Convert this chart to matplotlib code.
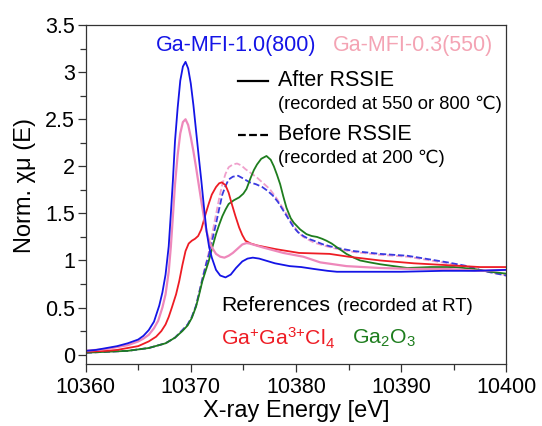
import matplotlib
matplotlib.use("Agg")
import matplotlib.pyplot as plt
from matplotlib.ticker import MultipleLocator

plt.rcParams['font.family'] = ['Liberation Sans', 'DejaVu Sans']
plt.rcParams['mathtext.fontset'] = 'custom'
plt.rcParams['mathtext.rm'] = 'Liberation Sans'
plt.rcParams['mathtext.default'] = 'regular'

# Ga-MFI-1.0(800), after RSSIE
e_blue = [10360.0, 10361.0, 10362.0, 10363.0, 10364.0, 10365.0, 10365.5, 10366.0, 10366.5,
          10367.0, 10367.3, 10367.6, 10367.9, 10368.1, 10368.3, 10368.5, 10368.75, 10369.0,
          10369.25, 10369.5, 10369.75, 10370.0, 10370.25, 10370.5, 10370.75, 10371.0, 10371.25,
          10371.5, 10371.75, 10372.0, 10372.4, 10372.8, 10373.3, 10373.8, 10374.3, 10374.9,
          10375.4, 10375.9, 10376.5, 10377.1, 10378.0, 10379.4, 10380.5, 10381.7, 10383.0,
          10383.9, 10386.4, 10390.0, 10394.0, 10397.0, 10400.0]
y_blue = [0.04, 0.05, 0.07, 0.09, 0.12, 0.16, 0.20, 0.26, 0.35,
          0.52, 0.66, 0.85, 1.15, 1.49, 1.85, 2.27, 2.62, 2.91,
          3.06, 3.11, 3.04, 2.88, 2.65, 2.38, 2.11, 1.85, 1.57,
          1.31, 1.14, 1.03, 0.90, 0.84, 0.82, 0.85, 0.92, 0.99,
          1.02, 1.03, 1.02, 1.00, 0.97, 0.94, 0.93, 0.91, 0.89,
          0.88, 0.88, 0.88, 0.89, 0.89, 0.90]

# Ga-MFI-0.3(550), after RSSIE
e_pink = [10360.0, 10361.0, 10362.0, 10363.0, 10364.0, 10365.0, 10365.5, 10366.0, 10366.5,
          10366.9, 10367.3, 10367.6, 10367.9, 10368.1, 10368.3, 10368.5, 10368.75, 10369.0,
          10369.25, 10369.5, 10369.75, 10370.0, 10370.25, 10370.5, 10370.75, 10371.0, 10371.25,
          10371.5, 10371.75, 10372.0, 10372.4, 10372.8, 10373.2, 10373.6, 10374.0, 10374.5,
          10374.9, 10375.3, 10375.6, 10376.2, 10376.8, 10377.8, 10378.8, 10380.7, 10382.3,
          10384.8, 10388.0, 10391.0, 10394.4, 10397.5, 10400.0]
y_pink = [0.04, 0.05, 0.06, 0.08, 0.10, 0.14, 0.17, 0.21, 0.28,
          0.36, 0.50, 0.64, 0.88, 1.14, 1.47, 1.81, 2.12, 2.35,
          2.47, 2.50, 2.44, 2.31, 2.16, 1.99, 1.81, 1.63, 1.46,
          1.31, 1.21, 1.14, 1.07, 1.04, 1.03, 1.05, 1.08, 1.13,
          1.17, 1.185, 1.18, 1.16, 1.14, 1.11, 1.08, 1.04, 0.98,
          0.94, 0.92, 0.91, 0.91, 0.89, 0.90]

# Ga+Ga3+Cl4 reference
e_red = [10360.0, 10361.0, 10362.0, 10363.0, 10364.0, 10365.0, 10365.4, 10366.0, 10366.7,
         10367.2, 10367.6, 10367.9, 10368.2, 10368.6, 10368.9, 10369.2, 10369.5, 10369.8,
         10370.1, 10370.4, 10370.7, 10371.0, 10371.4, 10371.7, 10372.0, 10372.4, 10372.7,
         10372.95, 10373.3, 10373.6, 10373.9, 10374.25, 10374.6, 10374.9, 10375.2, 10375.7,
         10376.3, 10377.2, 10378.1, 10380.3, 10383.2, 10385.0, 10388.0, 10391.2, 10394.4,
         10397.5, 10400.0]
y_red = [0.03, 0.035, 0.04, 0.05, 0.07, 0.09, 0.11, 0.14, 0.19,
         0.25, 0.32, 0.40, 0.50, 0.64, 0.78, 0.95, 1.10, 1.18,
         1.21, 1.23, 1.26, 1.33, 1.49, 1.60, 1.70, 1.78, 1.82,
         1.83, 1.80, 1.72, 1.60, 1.47, 1.35, 1.27, 1.21, 1.18,
         1.16, 1.14, 1.12, 1.08, 1.07, 1.04, 1.00, 0.97, 0.95,
         0.93, 0.93]

# Ga2O3 reference
e_green = [10360.0, 10362.0, 10364.0, 10366.0, 10367.6, 10368.5, 10369.2, 10369.7, 10370.1,
           10370.5, 10370.8, 10371.1, 10371.5, 10371.7, 10372.05, 10372.4, 10372.7, 10373.0,
           10373.3, 10373.6, 10374.1, 10374.6, 10375.0, 10375.3, 10375.7, 10376.0, 10376.3,
           10376.7, 10377.2, 10377.6, 10377.9, 10378.2, 10378.5, 10378.8, 10379.1, 10379.5,
           10379.8, 10380.4, 10381.0, 10381.5, 10382.0, 10382.5, 10382.9, 10383.4, 10383.9,
           10384.8, 10385.5, 10386.1, 10387.0, 10388.0, 10390.6, 10392.8, 10395.0, 10396.9,
           10398.5, 10400.0]
y_green = [0.02, 0.03, 0.04, 0.07, 0.12, 0.18, 0.25, 0.31, 0.39,
           0.51, 0.64, 0.78, 0.92, 0.99, 1.14, 1.28, 1.38, 1.47,
           1.54, 1.60, 1.64, 1.67, 1.71, 1.76, 1.88, 1.96, 2.02,
           2.08, 2.11, 2.07, 2.00, 1.91, 1.81, 1.68, 1.56, 1.45,
           1.40, 1.33, 1.28, 1.26, 1.25, 1.23, 1.21, 1.18, 1.14,
           1.07, 1.03, 1.00, 0.98, 0.96, 0.92, 0.93, 0.93, 0.91,
           0.88, 0.86]

# before RSSIE (recorded at 200 C)
e_blue_b = [10360.0, 10362.0, 10364.0, 10366.0, 10367.6, 10368.5, 10369.2, 10369.7, 10370.1,
            10370.5, 10370.8, 10371.1, 10371.5, 10371.7, 10372.05, 10372.4, 10372.7, 10373.0,
            10373.3, 10373.6, 10374.0, 10374.5, 10375.0, 10375.6, 10376.2, 10376.8, 10377.3,
            10377.8, 10378.3, 10378.8, 10379.3, 10379.8, 10380.2, 10380.7, 10381.2, 10381.7,
            10382.6, 10383.6, 10385.5, 10388.0, 10390.6, 10392.8, 10394.4, 10396.3, 10397.8,
            10400.0]
y_blue_b = [0.02, 0.03, 0.04, 0.07, 0.12, 0.18, 0.26, 0.32, 0.40,
            0.52, 0.66, 0.80, 0.98, 1.05, 1.22, 1.39, 1.55, 1.70,
            1.79, 1.86, 1.89, 1.90, 1.87, 1.83, 1.81, 1.78, 1.74,
            1.69, 1.62, 1.53, 1.44, 1.35, 1.30, 1.26, 1.23, 1.21,
            1.17, 1.14, 1.10, 1.07, 1.05, 1.01, 0.98, 0.94, 0.89,
            0.84]

e_pink_b = [10360.0, 10362.0, 10364.0, 10366.0, 10367.6, 10368.5, 10369.2, 10369.7, 10370.1,
            10370.5, 10370.8, 10371.1, 10371.5, 10371.7, 10372.05, 10372.4, 10372.7, 10373.0,
            10373.3, 10373.6, 10374.0, 10374.4, 10374.8, 10375.2, 10375.7, 10376.3, 10376.9,
            10377.5, 10378.1, 10378.8, 10379.3, 10379.8, 10380.2, 10380.7, 10381.2, 10381.7,
            10382.6, 10383.6, 10385.5, 10388.0, 10390.6, 10392.8, 10394.4, 10396.3, 10397.8,
            10400.0]
y_pink_b = [0.02, 0.03, 0.04, 0.07, 0.12, 0.18, 0.26, 0.32, 0.40,
            0.52, 0.66, 0.81, 0.99, 1.08, 1.29, 1.49, 1.66, 1.81,
            1.92, 1.99, 2.02, 2.03, 2.01, 1.97, 1.93, 1.88, 1.82,
            1.76, 1.67, 1.55, 1.46, 1.37, 1.30, 1.25, 1.22, 1.19,
            1.16, 1.13, 1.09, 1.06, 1.04, 1.00, 0.97, 0.93, 0.89,
            0.84]

fig = plt.figure(figsize=(5.42, 4.26), dpi=100)
ax = fig.add_axes([0.158, 0.1455, 0.776, 0.7955])

dash = (0, (3.5, 1.5))
kw = dict(solid_joinstyle='round', dash_joinstyle='round')
ax.plot(e_pink_b, y_pink_b, color='#f0a0cc', lw=1.3, linestyle=dash, **kw)
ax.plot(e_blue_b, y_blue_b, color='#3a3ae0', lw=1.3, linestyle=dash, **kw)
ax.plot(e_green, y_green, color='#1e7d1e', lw=1.3, **kw)
ax.plot(e_red, y_red, color='#ee1c24', lw=1.3, **kw)
ax.plot(e_pink, y_pink, color='#ee88bb', lw=1.6, **kw)
ax.plot(e_blue, y_blue, color='#1414e6', lw=1.3, **kw)

ax.set_xlim(10360, 10400)
ax.set_ylim(-0.1, 3.5)
ax.xaxis.set_major_locator(MultipleLocator(10))
ax.xaxis.set_minor_locator(MultipleLocator(5))
ax.yaxis.set_major_locator(MultipleLocator(0.5))
ax.yaxis.set_minor_locator(MultipleLocator(0.25))
ax.yaxis.set_major_formatter(plt.FuncFormatter(lambda v, p: '%g' % v))
ax.tick_params(which='major', direction='out', length=6, width=0.9,
               labelsize=15.5, color='#333333')
ax.tick_params(which='minor', direction='out', length=4, width=0.9, color='#333333')
ax.tick_params(axis='y', pad=1.5)
ax.tick_params(axis='x', pad=3)
for s in ax.spines.values():
    s.set_color('#333333')
    s.set_linewidth(0.9)

ax.set_xlabel('X-ray Energy [eV]', fontsize=17, labelpad=2)
ax.set_ylabel('Norm. χμ (E)', fontsize=17)
ax.yaxis.set_label_coords(-0.118, 0.528)

def fx(px):
    return (px - 85.5) / 420.5

def fy(py):
    return (364 - py) / 339.0

T = ax.transAxes
ax.text(fx(156), fy(45), 'Ga-MFI-1.0(800)', color='#1414e6', fontsize=15.5,
        transform=T, va='center')
ax.text(fx(333), fy(45), 'Ga-MFI-0.3(550)', color='#f4a4b4', fontsize=15.5,
        transform=T, va='center')

ax.plot([fx(238), fx(268)], [fy(81), fy(81)], color='black', lw=1.6,
        transform=T, clip_on=False)
ax.text(fx(278), fy(80), 'After RSSIE', fontsize=15.5, transform=T, va='center')
ax.text(fx(278), fy(104), '(recorded at 550 or 800 ℃)', fontsize=13.2,
        transform=T, va='center')
ax.plot([fx(238), fx(268)], [fy(135), fy(135)], color='black', lw=1.6,
        linestyle=dash, transform=T, clip_on=False)
ax.text(fx(278), fy(134), 'Before RSSIE', fontsize=15.5, transform=T, va='center')
ax.text(fx(278), fy(158), '(recorded at 200 ℃)', fontsize=13.2,
        transform=T, va='center')

ax.text(fx(221), fy(305), 'References', fontsize=15.3, transform=T, va='center')
ax.text(fx(337), fy(306), '(recorded at RT)', fontsize=13.4, transform=T, va='center')
ax.text(fx(221), fy(338), 'Ga$^{{+}}$Ga$^{3{+}}$Cl$_{4}$', color='#ee1c24', fontsize=15.3,
        transform=T, va='center')
ax.text(fx(352), fy(338), 'Ga$_{2}$O$_{3}$', color='#1e7d1e', fontsize=15.3,
        transform=T, va='center')

fig.savefig('out.png', dpi=100)
